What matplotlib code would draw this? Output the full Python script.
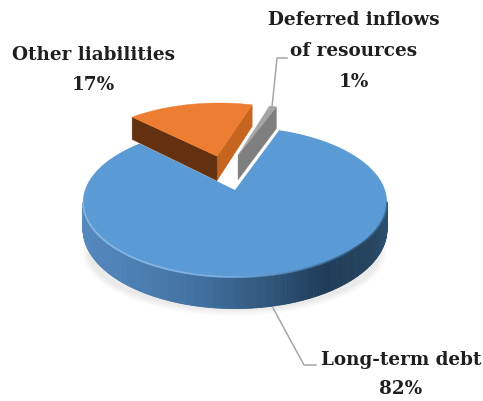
import numpy as np
import matplotlib.pyplot as plt
from matplotlib.colors import LinearSegmentedColormap

labels = ['Long-term debt', 'Deferred inflows\nof resources', 'Other liabilities']
values = [82, 1, 17]
pct_labels = ['82%', '1%', '17%']

top_colors = ['#5b9bd5', '#a5a5a5', '#ed7d31']

# pie plane -> picture pixels, a small perspective so the back looks shorter
cx, cy = 235, 190
k, a, c = 150, 73.1, 0.16
depth = 26.5
start_angle = 135
explode = [(0, 0), (0.022, 0.515), (-0.13, 0.50)]
radius = [1.0, 0.93, 0.97]


def project(u, v):
    w = 1 + c * v
    return cx + k * u / w, cy - a * v / w


def drop(v):
    return depth / (1 + c * v)


fig = plt.figure(figsize=(4.83, 4.01), dpi=100)
ax = fig.add_axes([0, 0, 1, 1])
ax.set_xlim(0, 483)
ax.set_ylim(401, 0)
ax.axis('off')

sweeps = np.array(values) / sum(values) * 360
starts = start_angle + np.concatenate([[0], np.cumsum(sweeps)[:-1]])

# soft shadow under the pie
t = np.linspace(0, 2 * np.pi, 200)
for grow in np.linspace(6, 0, 7):
    ax.fill(234.5 + (146 + grow) * np.cos(t), 252 + (58 + grow) * np.sin(t),
            color='#000000', alpha=0.012, lw=0, zorder=1)

# blue side, shaded left to right
side_cmap = LinearSegmentedColormap.from_list('side', [
    (0.0, '#5689bd'), (0.15, '#4c80b4'), (0.4, '#3f6f9e'), (0.62, '#2f5578'),
    (0.8, '#1f3b58'), (0.95, '#26455f'), (1.0, '#2b4e6d')])
th = np.radians(np.linspace(starts[0], starts[0] + sweeps[0], 500))
u, v = radius[0] * np.cos(th), radius[0] * np.sin(th)
x, y = project(u, v)
d = drop(v)
for i in range(len(th) - 1):
    if v[i] > -0.16:
        continue
    col = side_cmap((x[i] - 83) / 303)
    ax.fill([x[i], x[i + 1], x[i + 1], x[i]],
            [y[i], y[i + 1], y[i + 1] + d[i + 1], y[i] + d[i]],
            color=col, lw=0.6, zorder=2)

# blue top
ux = np.concatenate([[0], u])
vx = np.concatenate([[0], v])
px, py = project(ux, vx)
ax.fill(px, py, color=top_colors[0], lw=0, zorder=3)

# bevel on the front rim
rim_cmap = LinearSegmentedColormap.from_list('rim', [
    (0.0, '#8fbde8'), (0.45, '#7fb2e3'), (0.7, '#4f86ba'), (0.9, '#2d5273'), (1.0, '#3b6a94')])
for i in range(len(th) - 1):
    if v[i] > -0.16:
        continue
    ax.plot(x[i:i + 2], y[i:i + 2], color=rim_cmap((x[i] - 83) / 303), lw=1.3,
            solid_capstyle='butt', zorder=4)

# the two pulled out slices
wall_colors = {1: (None, '#7f7f7f'), 2: ('#633110', '#c5651f')}
for n in [1, 2]:
    ox, oy = explode[n]
    r = radius[n]
    ang = np.radians(np.linspace(starts[n], starts[n] + sweeps[n], 60))
    uu = ox + r * np.cos(ang)
    vv = oy + r * np.sin(ang)
    ax_, ay_ = project(ox, oy)
    sx, sy = project(uu, vv)
    ad = drop(oy)
    left_wall, right_wall = wall_colors[n][0], wall_colors[n][1]
    # right wall runs to the first angle, left wall to the last one
    ax.fill([ax_, sx[0], sx[0], ax_], [ay_, sy[0], sy[0] + drop(vv[0]), ay_ + ad],
            color=right_wall, lw=0.3, zorder=5 + n)
    if left_wall:
        ax.fill([ax_, sx[-1], sx[-1], ax_], [ay_, sy[-1], sy[-1] + drop(vv[-1]), ay_ + ad],
                color=left_wall, lw=0.3, zorder=5 + n)
    ax.fill(np.concatenate([[ax_], sx]), np.concatenate([[ay_], sy]),
            color=top_colors[n], lw=0.3, zorder=6 + n)

# leader lines
ax.plot([272, 277, 287], [107, 58, 58], color='#a6a6a6', lw=1.1, zorder=4)
ax.plot([273, 304, 316], [308, 365, 365], color='#a6a6a6', lw=1.1, zorder=1.5)

font = dict(family='DejaVu Serif', fontweight='bold', fontsize=13.2, color='#1f1f1f',
            ha='center', va='center', zorder=10)
ax.text(401, 360, labels[0], **font)
ax.text(401, 389, pct_labels[0], **font)
ax.text(354, 20, labels[1].split('\n')[0], **font)
ax.text(354, 51, labels[1].split('\n')[1], **font)
ax.text(354, 82, pct_labels[1], **font)
ax.text(93, 55, labels[2], **font)
ax.text(93, 85, pct_labels[2], **font)

plt.savefig('out.png', dpi=100)
